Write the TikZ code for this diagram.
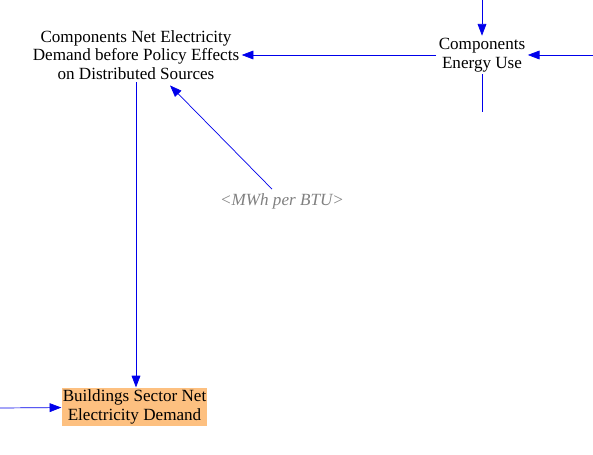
\documentclass[tikz,border=0pt]{standalone}
\usepackage{fontspec}
\setmainfont{Liberation Serif}
\usetikzlibrary{arrows.meta}
\definecolor{flowblue}{RGB}{0,0,235}
\definecolor{boxorange}{RGB}{253,192,128}
\tikzset{
    every node/.style={
        text=black,
        font=\fontsize{14.6}{15.8}\selectfont,
        align=center
    },
    every path/.style={
        color=flowblue
    }
}
\tikzstyle{var}=[inner sep=2pt]
\tikzstyle{shadow}=[text=gray, font=\fontsize{14.6}{15.8}\selectfont\itshape]
\tikzstyle{link}=[-{Triangle[length=10pt,width=7.5pt]}, line width=0.6pt]

\begin{document}
\begin{tikzpicture}[x=0.03cm, y=-0.03cm]
\useasboundingbox (0,0) rectangle (593,455);

\node[var] (CNED) at (136,55) {Components Net Electricity\\Demand before Policy Effects\\on Distributed Sources};
\node[var] (CEU) at (482,55) {Components\\Energy Use};
\node[shadow] (MWh) at (282,201) {<MWh per BTU>};
\node[var, fill=boxorange, inner xsep=1pt, inner ysep=2pt] (BSNED) at (134.5,407) {Buildings Sector Net\\Electricity Demand};

\coordinate (CEUin) at (593,55);
\coordinate (CEUtop) at (482,0);
\coordinate (CEUout) at (482,112);
\coordinate (BSin) at (0,408);

\draw[link] (CEUin) -- (CEU);
\draw[link] (CEUtop) -- (CEU);
\draw[line width=0.6pt] (CEU) -- (CEUout);
\draw[link] (CEU) -- (CNED);
\draw[link] ([xshift=-0.3cm]MWh.north) -- ([xshift=1.02cm,yshift=-0.1cm]CNED.south);
\draw[link] (CNED) -- (CNED |- BSNED.north);
\draw[link] (BSin) -- (BSNED);

\end{tikzpicture}
\end{document}
